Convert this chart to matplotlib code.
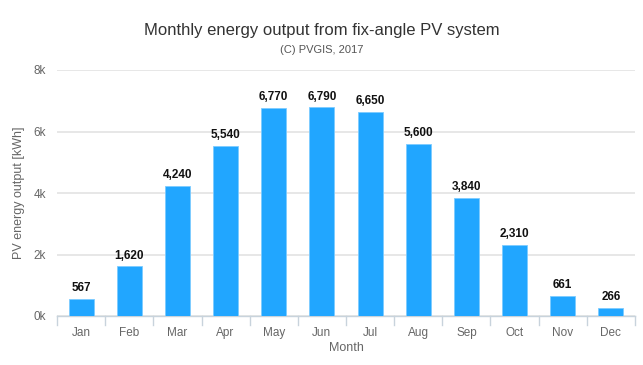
import matplotlib
matplotlib.use("Agg")
import matplotlib.pyplot as plt
import numpy as np

months = ["Jan", "Feb", "Mar", "Apr", "May", "Jun", "Jul", "Aug", "Sep", "Oct", "Nov", "Dec"]
output_kwh = [567, 1620, 4240, 5540, 6770, 6790, 6650, 5600, 3840, 2310, 661, 266]
yticks = [0, 2000, 4000, 6000, 8000]
ytick_labels = ["0k", "2k", "4k", "6k", "8k"]

plt.rcParams['font.family'] = ['Liberation Sans', 'DejaVu Sans']

W, H = 643, 365
fig = plt.figure(figsize=(W / 100, H / 100), dpi=100)
left, right, bottom, top = 57, 635, 316, 70
ax = fig.add_axes([left / W, 1 - bottom / H, (right - left) / W, (bottom - top) / H])

x = np.arange(len(months))
bars = ax.bar(x, output_kwh, width=0.52, color="#21A6FF", edgecolor="#7CCBFF", linewidth=0.6, zorder=3)
for xi, v in zip(x, output_kwh):
    ax.text(xi, v + 150, f"{v:,}", ha="center", va="bottom", fontsize=8.5,
            fontweight="bold", color="#111111", zorder=4)

ax.set_xlim(-0.5, len(months) - 0.5)
ax.set_ylim(0, 8000)
ax.set_yticks(yticks)
ax.set_yticklabels(ytick_labels)
ax.set_xticks(x)
ax.set_xticklabels(months)
ax.grid(axis="y", color="#E3E3E3", linewidth=1.2, zorder=0)
ax.set_axisbelow(True)

for s in ["top", "right", "left"]:
    ax.spines[s].set_visible(False)
ax.spines["bottom"].set_color("#C8D3DC")
ax.spines["bottom"].set_linewidth(1)

ax.tick_params(axis="y", length=0, pad=8, labelsize=8.5, labelcolor="#666666")
ax.tick_params(axis="x", length=0, pad=8, labelsize=8.5, labelcolor="#666666")
# category separators
for b in np.arange(-0.5, len(months) + 0.5, 1):
    ax.plot([b, b], [0, -0.035], transform=ax.get_xaxis_transform(), color="#C8D3DC",
            linewidth=1, clip_on=False)

ax.set_xlabel("Month", fontsize=9, color="#666666", labelpad=2)
ax.set_ylabel("PV energy output [kWh]", fontsize=9, color="#666666")
ax.yaxis.set_label_coords(-(57 - 25) / (right - left), 0.5)

fig.text(0.5, 1 - 30 / H, "Monthly energy output from fix-angle PV system", ha="center",
         va="center", fontsize=12, color="#333333")
fig.text(0.5, 1 - 50 / H, "(C) PVGIS, 2017", ha="center", va="center", fontsize=8, color="#555555")

fig.savefig("out.png", dpi=100)
